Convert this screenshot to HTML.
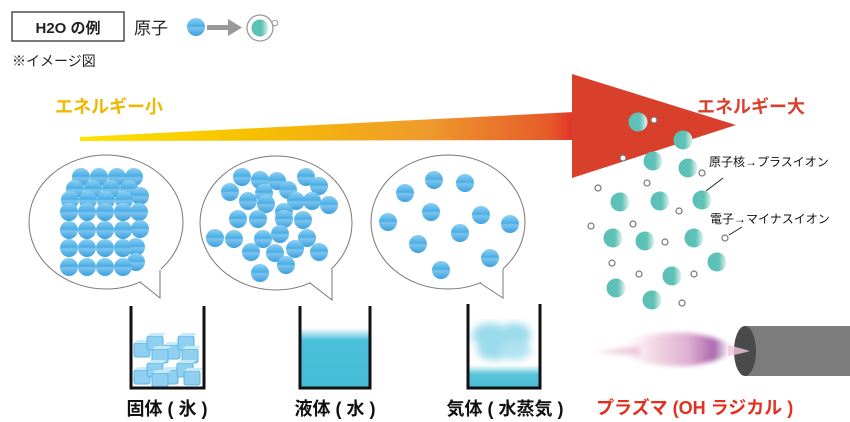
<!DOCTYPE html>
<html><head><meta charset="utf-8"><style>
html,body{margin:0;padding:0;background:#fff;width:850px;height:422px;overflow:hidden}
svg{display:block}
text{font-family:"Liberation Sans","Noto Sans CJK JP",sans-serif}
</style></head><body>
<svg width="850" height="422" viewBox="0 0 850 422" xmlns="http://www.w3.org/2000/svg">
<defs>
<linearGradient id="bb" x1="0" y1="0" x2="0" y2="1"><stop offset="0" stop-color="#8fd0f2"/><stop offset="0.45" stop-color="#4aaee6"/><stop offset="0.55" stop-color="#7cc4ee"/><stop offset="1" stop-color="#3a9fdc"/></linearGradient>
<linearGradient id="tb" x1="0" y1="0" x2="1" y2="0"><stop offset="0" stop-color="#5bbfb5"/><stop offset="0.6" stop-color="#5fc2b7"/><stop offset="1" stop-color="#e6f5f3"/></linearGradient>
<linearGradient id="wedge" x1="0" y1="0" x2="1" y2="0"><stop offset="0" stop-color="#ffe400"/><stop offset="0.35" stop-color="#f6c000"/><stop offset="0.7" stop-color="#ef9a2c"/><stop offset="0.95" stop-color="#e65a2a"/><stop offset="1" stop-color="#e2302a"/></linearGradient>
<linearGradient id="water" x1="0" y1="0" x2="0" y2="1"><stop offset="0" stop-color="#fff"/><stop offset="0.2" stop-color="#4bbfd8"/><stop offset="1" stop-color="#45bcd6"/></linearGradient>
<linearGradient id="water3" x1="0" y1="0" x2="0" y2="1"><stop offset="0" stop-color="#fff"/><stop offset="0.4" stop-color="#5cc5dc"/><stop offset="1" stop-color="#45bcd6"/></linearGradient>
<linearGradient id="plume" x1="0" y1="0" x2="1" y2="0"><stop offset="0" stop-color="#fff" stop-opacity="0"/><stop offset="0.3" stop-color="#f3d6e4"/><stop offset="0.6" stop-color="#d9a0c8"/><stop offset="0.8" stop-color="#9a4fa0"/><stop offset="0.92" stop-color="#fff"/><stop offset="1" stop-color="#f0b8d6"/></linearGradient>
<filter id="blur"><feGaussianBlur stdDeviation="4"/></filter>
<filter id="blur2"><feGaussianBlur stdDeviation="2.5"/></filter>
<circle id="b" r="9" fill="url(#bb)"/>
<circle id="t" r="9.5" fill="url(#tb)"/>
<circle id="e" r="3" fill="#fff" stroke="#777" stroke-width="1.2"/>
<g id="ice"><rect x="-8" y="-7" width="16" height="14" rx="2" fill="#8fd0f0" stroke="#5bb5e5" stroke-width="1"/><path d="M-8 -7 L-4 -10 L11 -10 L8 -7 Z" fill="#c8e9f8"/></g>
</defs>

<!-- header -->
<rect x="12" y="12" width="112" height="29" fill="#fff" stroke="#333" stroke-width="1.3"/>
<text x="68" y="33" font-size="15" font-weight="bold" text-anchor="middle" fill="#222">H2O の例</text>
<text x="134" y="34" font-size="17" fill="#222">原子</text>
<use href="#b" x="196" y="27"/>
<rect x="207" y="25" width="22" height="5" fill="#999"/>
<path d="M228 19 L242 27.5 L228 36 Z" fill="#999"/>
<circle cx="260" cy="28" r="13" fill="#fff" stroke="#999" stroke-width="1.3"/>
<circle cx="260" cy="28" r="8.5" fill="url(#tb)"/>
<circle cx="275" cy="23" r="2.8" fill="#fff" stroke="#999" stroke-width="1"/>
<text x="12" y="66" font-size="14" fill="#222">※イメージ図</text>

<!-- energy -->
<text x="55" y="113" font-size="18" font-weight="bold" fill="#f0b800">エネルギー小</text>
<path d="M80 137 L575 112 L575 140 L80 141 Z" fill="url(#wedge)"/>
<path d="M572 74 L736 125 L572 178 Z" fill="#d8402c"/>
<text x="697" y="113" font-size="18" font-weight="bold" fill="#d8402c">エネルギー大</text>

<!-- bubbles -->
<g stroke="#777" stroke-width="1">
<ellipse cx="106" cy="222" rx="77" ry="67" fill="#fff"/>
<ellipse cx="276" cy="223" rx="76" ry="67" fill="#fff"/>
<ellipse cx="448" cy="222" rx="77" ry="67" fill="#fff"/>
</g>
<g fill="#fff" stroke="none">
<path d="M139 280 L160 298 L161 268 Z"/>
<path d="M309 281 L332 300 L332 266 Z"/>
<path d="M479 281 L503 298 L503 267 Z"/>
</g>
<g fill="none" stroke="#777" stroke-width="1">
<path d="M140 282 L160 298 L160 270"/>
<path d="M310 283 L332 300 L332 268"/>
<path d="M480 283 L503 298 L503 269"/>
</g>

<!-- solid lattice -->
<g>
<use href="#b" x="81" y="177"/><use href="#b" x="99" y="177"/><use href="#b" x="117" y="177"/><use href="#b" x="134" y="177"/>
<use href="#b" x="75" y="189"/><use href="#b" x="93" y="189"/><use href="#b" x="111" y="189"/><use href="#b" x="129" y="189"/><use href="#b" x="140" y="196"/>
<use href="#b" x="70" y="200"/><use href="#b" x="88" y="200"/><use href="#b" x="106" y="200"/><use href="#b" x="124" y="200"/><use href="#b" x="139" y="212"/>
<use href="#b" x="69" y="212"/><use href="#b" x="87" y="212"/><use href="#b" x="105" y="212"/><use href="#b" x="123" y="212"/><use href="#b" x="140" y="229"/>
<use href="#b" x="69" y="230"/><use href="#b" x="87" y="230"/><use href="#b" x="105" y="230"/><use href="#b" x="123" y="230"/><use href="#b" x="136" y="247"/>
<use href="#b" x="69" y="248"/><use href="#b" x="87" y="248"/><use href="#b" x="105" y="248"/><use href="#b" x="123" y="248"/><use href="#b" x="136" y="262"/>
<use href="#b" x="69" y="267"/><use href="#b" x="87" y="267"/><use href="#b" x="105" y="267"/><use href="#b" x="123" y="267"/>
</g>
<!-- liquid -->
<g>
<use href="#b" x="242" y="177"/><use href="#b" x="260" y="180"/><use href="#b" x="277" y="181"/><use href="#b" x="306" y="177"/><use href="#b" x="319" y="186"/>
<use href="#b" x="230" y="192"/><use href="#b" x="264" y="193"/><use href="#b" x="288" y="190"/><use href="#b" x="248" y="201"/><use href="#b" x="266" y="204"/><use href="#b" x="296" y="201"/><use href="#b" x="312" y="201"/><use href="#b" x="329" y="205"/>
<use href="#b" x="238" y="219"/><use href="#b" x="258" y="219"/><use href="#b" x="284" y="212"/><use href="#b" x="284" y="219"/><use href="#b" x="303" y="220"/>
<use href="#b" x="215" y="238"/><use href="#b" x="234" y="239"/><use href="#b" x="263" y="239"/><use href="#b" x="280" y="234"/><use href="#b" x="307" y="238"/>
<use href="#b" x="251" y="252"/><use href="#b" x="275" y="253"/><use href="#b" x="295" y="249"/><use href="#b" x="319" y="252"/><use href="#b" x="286" y="265"/><use href="#b" x="260" y="273"/>
</g>
<!-- gas -->
<g>
<use href="#b" x="434" y="180"/><use href="#b" x="465" y="183"/><use href="#b" x="405" y="193"/><use href="#b" x="431" y="212"/><use href="#b" x="481" y="215"/>
<use href="#b" x="388" y="222"/><use href="#b" x="510" y="224"/><use href="#b" x="460" y="233"/><use href="#b" x="418" y="244"/><use href="#b" x="490" y="258"/><use href="#b" x="441" y="270"/>
</g>

<!-- cups -->
<g>
<use href="#ice" x="142" y="350"/><use href="#ice" x="155" y="343"/><use href="#ice" x="172" y="352"/><use href="#ice" x="186" y="343"/><use href="#ice" x="190" y="356"/><use href="#ice" x="160" y="356"/>
<use href="#ice" x="142" y="377"/><use href="#ice" x="155" y="370"/><use href="#ice" x="170" y="377"/><use href="#ice" x="185" y="370"/><use href="#ice" x="192" y="378"/><use href="#ice" x="160" y="380"/>
</g>
<rect x="301" y="328" width="68" height="60" fill="url(#water)"/>
<g filter="url(#blur)" opacity="0.7"><ellipse cx="490" cy="335" rx="18" ry="12" fill="#6fcbe3"/><ellipse cx="515" cy="335" rx="16" ry="12" fill="#6fcbe3"/><ellipse cx="495" cy="350" rx="18" ry="10" fill="#6fcbe3"/><ellipse cx="515" cy="350" rx="16" ry="10" fill="#8fd6e8"/></g>
<rect x="469" y="365" width="70" height="23" fill="url(#water3)"/>
<g fill="none" stroke="#111" stroke-width="3">
<path d="M131 306 V388 H204 V306"/>
<path d="M300 306 V388 H370 V306"/>
<path d="M468 304 V388 H540 V304"/>
</g>
<text x="167" y="415" font-size="18" font-weight="bold" text-anchor="middle" fill="#111">固体 ( 氷 )</text>
<text x="335" y="415" font-size="18" font-weight="bold" text-anchor="middle" fill="#111">液体 ( 水 )</text>
<text x="505" y="415" font-size="18" font-weight="bold" text-anchor="middle" fill="#111">気体 ( 水蒸気 )</text>

<!-- plasma particles -->
<g>
<use href="#t" x="638" y="122"/><use href="#t" x="683" y="140"/><use href="#t" x="653" y="161"/><use href="#t" x="688" y="168"/>
<use href="#t" x="620" y="202"/><use href="#t" x="660" y="201"/><use href="#t" x="702" y="200"/>
<use href="#t" x="613" y="238"/><use href="#t" x="645" y="241"/><use href="#t" x="694" y="238"/><use href="#t" x="717" y="262"/>
<use href="#t" x="672" y="276"/><use href="#t" x="616" y="288"/><use href="#t" x="652" y="300"/>
<use href="#e" x="654" y="120"/><use href="#e" x="623" y="158"/><use href="#e" x="702" y="173"/><use href="#e" x="598" y="188"/><use href="#e" x="647" y="183"/><use href="#e" x="679" y="211"/><use href="#e" x="591" y="226"/><use href="#e" x="633" y="224"/><use href="#e" x="665" y="242"/><use href="#e" x="725" y="238"/><use href="#e" x="612" y="263"/><use href="#e" x="639" y="274"/><use href="#e" x="694" y="274"/><use href="#e" x="682" y="303"/>
</g>
<line x1="706" y1="191" x2="723" y2="178" stroke="#222" stroke-width="1"/>
<line x1="729" y1="235" x2="742" y2="227" stroke="#222" stroke-width="1"/>
<text x="709" y="166" font-size="12" fill="#111">原子核→プラスイオン</text>
<text x="710" y="223" font-size="12" fill="#111">電子→マイナスイオン</text>

<!-- plasma torch -->
<g filter="url(#blur2)">
<path d="M612 350 Q640 330 690 333 Q720 337 740 349 Q720 362 690 366 Q640 368 612 350 Z" fill="url(#plume)" opacity="0.85"/>
<path d="M595 352 L640 346 L640 356 Z" fill="#e8b8d0" opacity="0.7"/>
</g>
<rect x="745" y="326" width="105" height="50" fill="#7c7c7c"/>
<ellipse cx="745" cy="351" rx="11" ry="25" fill="#4a4a4a"/>
<path d="M728 345 Q740 348 750 351 Q740 354 728 356 Z" fill="#f4c4dc" opacity="0.8"/>
<text x="596" y="414" font-size="18" font-weight="bold" fill="#e3301e">プラズマ (OH ラジカル )</text>
</svg>
</body></html>
